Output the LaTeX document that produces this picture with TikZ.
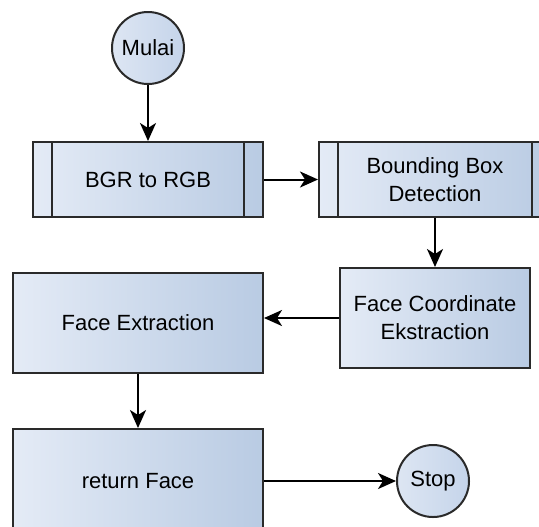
\documentclass[tikz,border=0pt]{standalone}
\usepackage{fontspec}
\setmainfont{Liberation Sans}
\usetikzlibrary{arrows.meta}

\definecolor{boxleft}{HTML}{E4EBF6}
\definecolor{boxright}{HTML}{B9CBE3}
\definecolor{termleft}{HTML}{DDE6F3}
\definecolor{termright}{HTML}{C5D4EA}
\definecolor{edge}{HTML}{2A2A2A}

\tikzset{
	proc/.style={draw=edge, line width=1pt, left color=boxleft, right color=boxright,
		align=center, inner sep=0pt, font=\fontsize{11}{14}\selectfont},
	subproc/.style={proc, path picture={
		\draw[edge, line width=1pt] ([xshift=9.5pt]path picture bounding box.north west)
			-- ([xshift=9.5pt]path picture bounding box.south west);
		\draw[edge, line width=1pt] ([xshift=-9.5pt]path picture bounding box.north east)
			-- ([xshift=-9.5pt]path picture bounding box.south east);}},
	term/.style={circle, draw=edge, line width=1pt, left color=termleft, right color=termright,
		minimum size=36pt, inner sep=0pt, font=\fontsize{11}{14}\selectfont},
	flow/.style={->, line width=1pt}
}

\begin{document}
\begin{tikzpicture}[x=0.5pt, y=-0.5pt, >={Stealth[length=9pt, width=8pt, inset=2.5pt]}]
	\clip (0,0) rectangle (539,526);
	\node[term] at (148,48) (mulai) {Mulai};
	\node[subproc, minimum width=115pt, minimum height=37.5pt] at (148,179.5) (bgr) {BGR to RGB};
	\node[subproc, minimum width=116pt, minimum height=37.5pt] at (435,179.5) (bbox) {Bounding Box\\Detection};
	\node[proc, minimum width=95pt, minimum height=50pt] at (435,318) (coord) {Face Coordinate\\Ekstraction};
	\node[proc, minimum width=125pt, minimum height=50pt] at (138,323) (extract) {Face Extraction};
	\node[proc, minimum width=125pt, minimum height=52pt] at (138,481) (ret) {return Face};
	\node[term] at (433,481) (stop) {Stop};
	\draw[flow] (mulai) to (bgr);
	\draw[flow] (bgr) to (bbox);
	\draw[flow] (bbox) to (coord);
	\draw[flow] (coord.west) to (coord.west -| extract.east);
	\draw[flow] (extract) to (ret);
	\draw[flow] (ret) to (stop);
\end{tikzpicture}
\end{document}
